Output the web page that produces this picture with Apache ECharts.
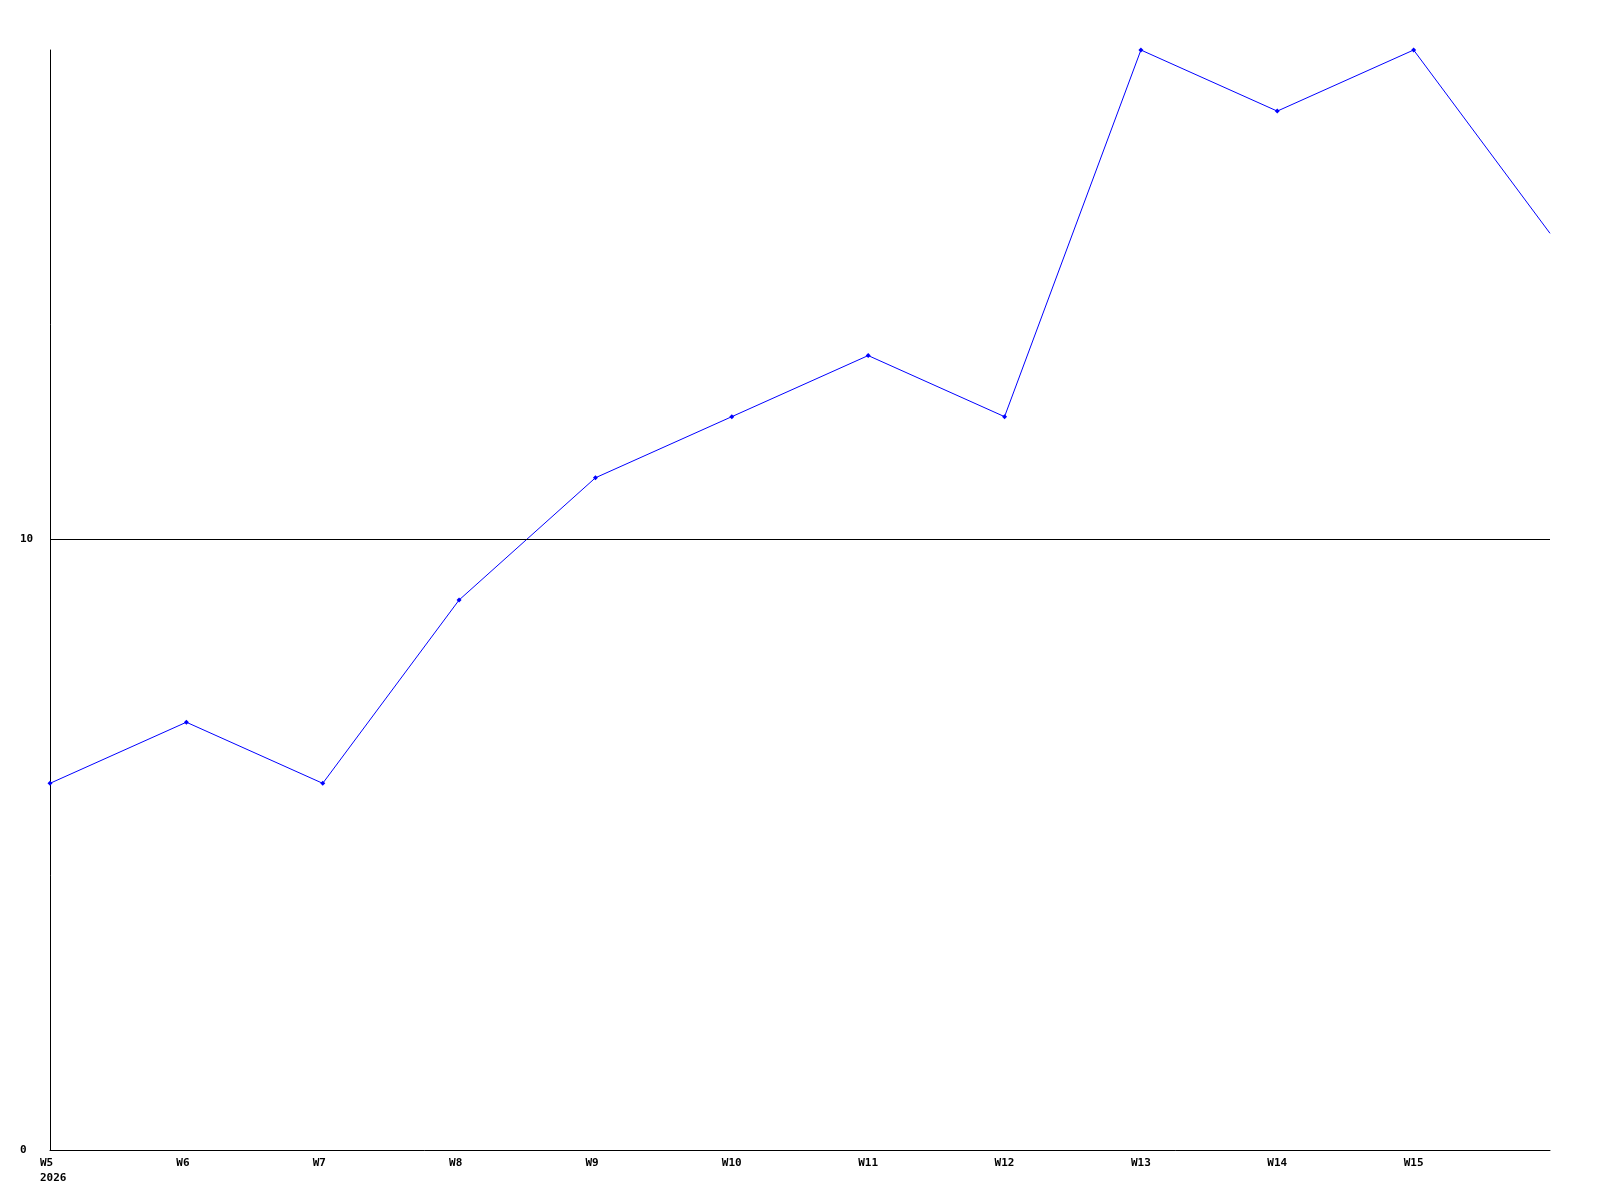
<!DOCTYPE html>
<html>
<head>
<meta charset="utf-8">
<script src="https://cdn.jsdelivr.net/npm/echarts@6/dist/echarts.min.js"></script>
<style>html,body{margin:0;padding:0;background:#fff}#c{width:1600px;height:1200px}</style>
</head>
<body>
<div id="c"></div>
<script>
const categories = ['W5','W6','W7','W8','W9','W10','W11','W12','W13','W14','W15','W16'];
const values = [6, 7, 6, 9, 11, 12, 13, 12, 18, 17, 18, 15];
const yearLabel = '2026';
const yTicks = [0, 10];

const chart = echarts.init(document.getElementById('c'), null, {renderer: 'canvas'});
const font = {fontFamily: '"DejaVu Sans Mono", monospace', fontWeight: 'bold', fontSize: 11, color: '#000'};
chart.setOption({
  animation: false,
  backgroundColor: '#fff',
  grid: {left: 50, right: 50, top: 50, bottom: 50, containLabel: false},
  xAxis: {
    type: 'category',
    data: categories,
    boundaryGap: false,
    axisLine: {lineStyle: {color: '#000', width: 1}},
    axisTick: {show: false},
    splitLine: {show: false},
    axisLabel: Object.assign({}, font, {
      interval: 0,
      align: 'left',
      margin: 6,
      lineHeight: 15,
      padding: [0, 0, 0, -10],
      formatter: function (v, i) {
        if (i === categories.length - 1) return '';
        return i === 0 ? v + '\n' + yearLabel : v;
      }
    })
  },
  yAxis: {
    type: 'value',
    min: 0,
    max: 18,
    interval: 10,
    axisLine: {show: true, lineStyle: {color: '#000', width: 1}},
    axisTick: {show: false},
    splitLine: {show: false},
    axisLabel: Object.assign({}, font, {
      align: 'left',
      margin: 30,
      showMaxLabel: false,
      formatter: function (v) { return yTicks.indexOf(v) >= 0 ? String(v) : ''; }
    })
  },
  series: [{
    type: 'line',
    data: values.map(function (v, i) { return i === values.length - 1 ? {value: v, symbol: 'none'} : v; }),
    symbol: 'diamond',
    symbolSize: 5,
    showAllSymbol: true,
    lineStyle: {color: '#0000ff', width: 1},
    itemStyle: {color: '#0000ff'},
    markLine: {
      silent: true,
      symbol: 'none',
      label: {show: false},
      lineStyle: {color: '#000', width: 1, type: 'solid'},
      data: [{yAxis: yTicks[1]}]
    }
  }]
});
</script>
</body>
</html>
